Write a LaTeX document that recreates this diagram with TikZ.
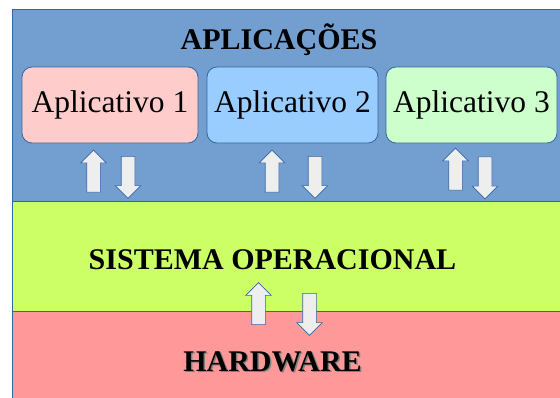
\documentclass[tikz,border=0pt]{standalone}
\usepackage{fontspec}
\setmainfont{Liberation Serif}
\usepackage{xcolor}
\usetikzlibrary{shapes.arrows}
\usetikzlibrary{positioning}

\definecolor{appblue}{HTML}{729FCF}
\definecolor{lineblue}{HTML}{3465A4}
\definecolor{osgreen}{HTML}{CCFF66}
\definecolor{hwred}{HTML}{FF9999}
\definecolor{apppink}{HTML}{FFCCCC}
\definecolor{appsky}{HTML}{99CCFF}
\definecolor{appmint}{HTML}{CCFFCC}
\definecolor{arrgray}{HTML}{EEEEEE}

\begin{document}
\begin{tikzpicture}[x=1pt, y=-1pt,
    panel/.style={rectangle, draw=lineblue, line width=0.8pt, anchor=north west, inner sep=0pt, minimum width=552pt},
    appbox/.style={rectangle, rounded corners=10pt, draw=lineblue, line width=0.8pt, minimum height=76pt, inner sep=0pt, font=\fontsize{31.5}{36}\selectfont},
    title/.style={anchor=base, inner sep=0pt, font=\fontsize{30}{36}\selectfont\bfseries},
    blockarrow/.style={single arrow, draw=lineblue, fill=arrgray, line width=0.6pt, inner xsep=0pt, inner ysep=6.5pt, single arrow head extend=6pt, minimum height=42pt},
    up/.style={blockarrow, rotate=90},
    down/.style={blockarrow, rotate=-90},
  ]

  \useasboundingbox[fill=white] (0,0) rectangle (560,397);

  % Layers
  \node[panel, fill=appblue, minimum height=192pt] (apps) at (12,9) {};
  \node[panel, fill=osgreen, minimum height=110pt] (os) at (12,201) {};
  \node[panel, fill=hwred, minimum height=100pt] (hw) at (12,311) {};

  % Layer titles
  \node[title] (appstitle) at (279,49.3) {APLICAÇÕES};
  \node[title] (ostitle) at (272.5,269.5) {SISTEMA OPERACIONAL};
  \node[title, text=gray] (hwshadow) at (274,372.5) {HARDWARE};
  \node[title] (hwtitle) at (272.5,371) {HARDWARE};

  % Applications
  \node[appbox, fill=apppink, minimum width=176pt] (app1) at (110,105) {Aplicativo 1};
  \node[appbox, fill=appsky, minimum width=171pt] (app2) at (292.5,105) {Aplicativo 2};
  \node[appbox, fill=appmint, minimum width=171pt] (app3) at (471.5,105) {Aplicativo 3};

  % Arrows between applications and system
  \node[up] (up1) at (93.5,174.5) {};
  \node[down] (down1) at (128,174) {};
  \node[up] (up2) at (272,174.5) {};
  \node[down] (down2) at (315,174) {};
  \node[up] (up3) at (455.5,172.5) {};
  \node[down] (down3) at (485,174.5) {};

  % Arrows between system and hardware
  \node[up] (uphw) at (258.5,307) {};
  \node[down] (downhw) at (309.5,311) {};

\end{tikzpicture}
\end{document}
